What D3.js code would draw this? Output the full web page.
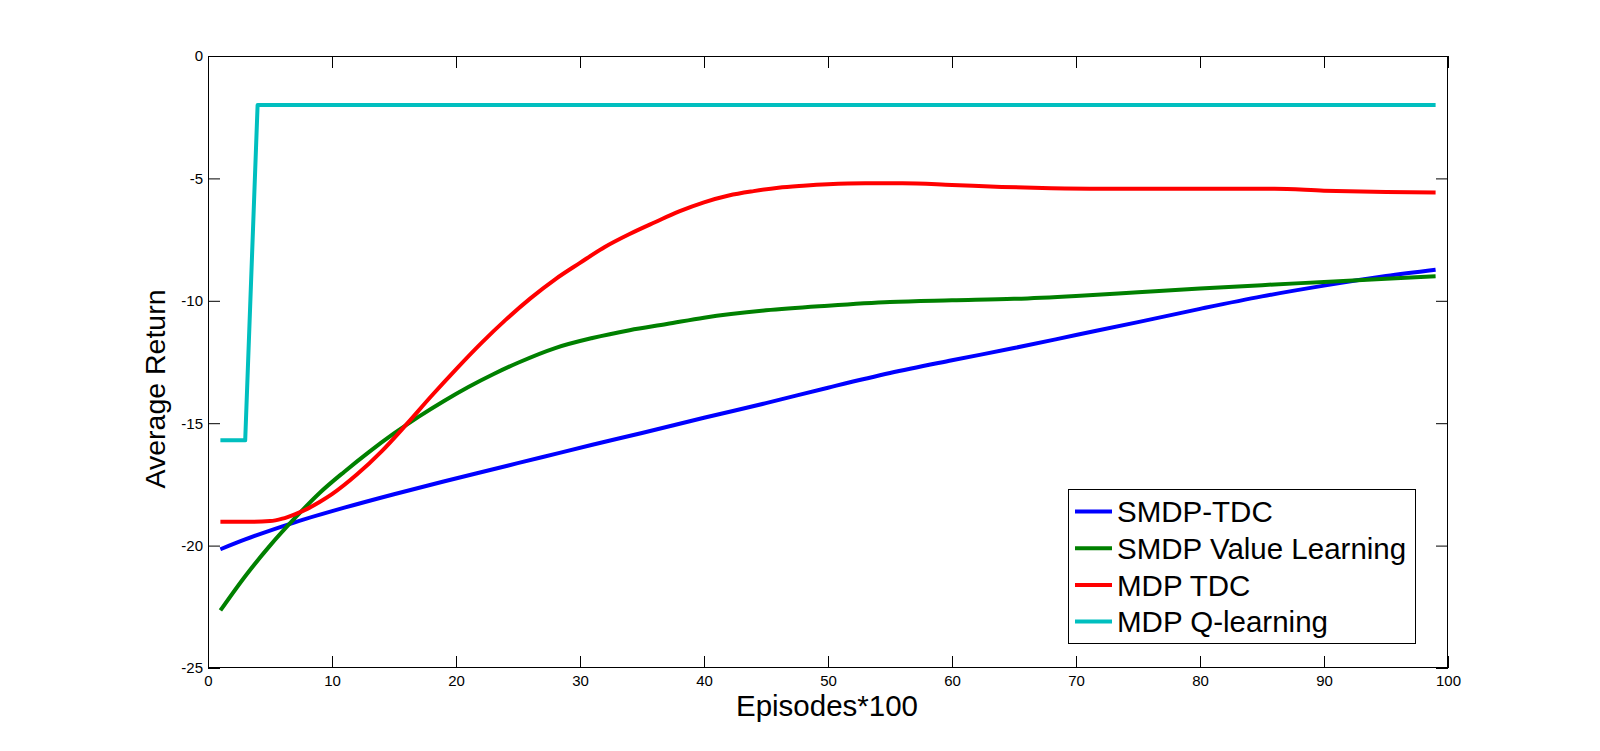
<!DOCTYPE html>
<html>
<head>
<meta charset="utf-8">
<script src="https://cdn.jsdelivr.net/npm/d3@7"></script>
<style>
  html, body { margin: 0; padding: 0; background: #fff; }
  svg { display: block; }
  text { font-family: "Liberation Sans", Arial, Helvetica, sans-serif; }
</style>
</head>
<body>
<svg id="chart" width="1600" height="751"></svg>
<script>
// ---------- data ----------
const xTicks = [0, 10, 20, 30, 40, 50, 60, 70, 80, 90, 100];
const xTickLabels = ["0", "10", "20", "30", "40", "50", "60", "70", "80", "90", "100"];
const yTicks = [-25, -20, -15, -10, -5, 0];
const yTickLabels = ["-25", "-20", "-15", "-10", "-5", "0"];

const seriesNames = ["SMDP-TDC", "SMDP Value Learning", "MDP TDC", "MDP Q-learning"];
const seriesColors = ["#0000ff", "#008000", "#ff0000", "#00bfbf"];

const smdpTdcX = [1, 3, 7, 11, 15, 19, 23, 27, 31, 35, 40, 45, 50, 55, 60, 65, 70, 75, 80, 85, 90, 95, 99];
const smdpTdcY = [-20.15, -19.75, -19.05, -18.45, -17.9, -17.38, -16.88, -16.38, -15.88, -15.4, -14.78, -14.18, -13.55, -12.95, -12.43, -11.93, -11.4, -10.87, -10.33, -9.82, -9.38, -8.99, -8.73];

const smdpValueX = [1, 3, 5, 7, 9, 11, 13, 15, 17, 19, 21, 23, 25, 28, 31, 34, 37, 40, 45, 50, 55, 60, 65, 70, 75, 80, 85, 90, 95, 99];
const smdpValueY = [-22.65, -21.25, -20.0, -18.88, -17.85, -16.98, -16.17, -15.42, -14.73, -14.1, -13.52, -13.0, -12.53, -11.93, -11.52, -11.2, -10.95, -10.69, -10.39, -10.2, -10.05, -9.98, -9.92, -9.8, -9.65, -9.5, -9.36, -9.23, -9.1, -9.0];

const mdpTdcX = [1, 3, 5, 6, 7, 8, 9, 10, 12, 14, 16, 18, 20, 22, 24, 26, 28, 30, 32, 34, 36, 38, 40, 42, 44, 46, 48, 50, 53, 56, 60, 64, 68, 72, 76, 80, 86, 90, 95, 99];
const mdpTdcY = [-19.03, -19.03, -19.0, -18.9, -18.72, -18.5, -18.22, -17.9, -17.1, -16.15, -15.05, -13.9, -12.8, -11.75, -10.78, -9.9, -9.12, -8.45, -7.8, -7.27, -6.8, -6.35, -5.98, -5.7, -5.52, -5.38, -5.3, -5.24, -5.2, -5.2, -5.27, -5.35, -5.4, -5.42, -5.42, -5.42, -5.42, -5.5, -5.56, -5.58];

const mdpQX = [1, 2, 3, 4, 10, 20, 30, 40, 50, 60, 70, 80, 90, 99];
const mdpQY = [-15.7, -15.7, -15.7, -2.0, -2.0, -2.0, -2.0, -2.0, -2.0, -2.0, -2.0, -2.0, -2.0, -2.0];

const xLabel = "Episodes*100";
const yLabel = "Average Return";

// ---------- build ----------
const seriesX = [smdpTdcX, smdpValueX, mdpTdcX, mdpQX];
const seriesY = [smdpTdcY, smdpValueY, mdpTdcY, mdpQY];
const series = seriesNames.map((name, i) => ({
  name, color: seriesColors[i],
  points: seriesX[i].map((xv, j) => ({ x: xv, y: seriesY[i][j] })),
  smooth: i !== 3
}));

const svg = d3.select("#chart");
const L = 208, R = 1448, T = 56, B = 668;

const x = d3.scaleLinear().domain([0, 100]).range([L, R]);
const y = d3.scaleLinear().domain([-25, 0]).range([B, T]);

svg.append("rect").attr("x", L).attr("y", T).attr("width", R - L).attr("height", B - T).attr("fill", "#fff");

// axes
const gx = svg.append("g").attr("transform", `translate(0,${B})`)
  .call(d3.axisBottom(x).tickValues(xTicks).tickFormat((d, i) => xTickLabels[i]).tickSizeInner(-12).tickSizeOuter(0).tickPadding(7));
const gxt = svg.append("g").attr("transform", `translate(0,${T})`)
  .call(d3.axisTop(x).tickValues(xTicks).tickFormat("").tickSizeInner(-12).tickSizeOuter(0));
const gy = svg.append("g").attr("transform", `translate(${L},0)`)
  .call(d3.axisLeft(y).tickValues(yTicks).tickFormat((d, i) => yTickLabels[i]).tickSizeInner(-12).tickSizeOuter(0).tickPadding(5));
const gyr = svg.append("g").attr("transform", `translate(${R},0)`)
  .call(d3.axisRight(y).tickValues(yTicks).tickFormat("").tickSizeInner(-12).tickSizeOuter(0));

[gx, gxt, gy, gyr].forEach(g => {
  g.select(".domain").remove();
  g.selectAll(".tick line").attr("stroke", "#000").attr("stroke-width", 1);
  g.selectAll(".tick text").attr("fill", "#000").style("font-size", "15px")
    .style("font-family", '"Liberation Sans", Arial, Helvetica, sans-serif');
});

// lines
const lineSmooth = d3.line().x(d => x(d.x)).y(d => y(d.y)).curve(d3.curveMonotoneX);
const lineStraight = d3.line().x(d => x(d.x)).y(d => y(d.y));

svg.append("g").selectAll("path").data(series).join("path")
  .attr("d", d => d.smooth ? lineSmooth(d.points) : lineStraight(d.points))
  .attr("fill", "none")
  .attr("stroke", d => d.color)
  .attr("stroke-width", 4)
  .attr("stroke-linejoin", "round");

// frame
svg.append("rect").attr("x", L + 0.5).attr("y", T + 0.5).attr("width", R - L - 1).attr("height", B - T - 1)
  .attr("fill", "none").attr("stroke", "#000").attr("stroke-width", 1);

// axis labels
svg.append("text").attr("x", 827).attr("y", 716).attr("text-anchor", "middle")
  .style("font-size", "29.5px").attr("fill", "#000").text(xLabel);
svg.append("text").attr("transform", `translate(165,389) rotate(-90)`).attr("text-anchor", "middle")
  .style("font-size", "28.5px").attr("fill", "#000").text(yLabel);

// legend
const lg = svg.append("g");
lg.append("rect").attr("x", 1068.5).attr("y", 489.5).attr("width", 347).attr("height", 154)
  .attr("fill", "#fff").attr("stroke", "#000").attr("stroke-width", 1);
const rowY = d3.scaleLinear().domain([0, 3]).range([511.5, 621.6]);
series.forEach((s, i) => {
  lg.append("line").attr("x1", 1075).attr("x2", 1112).attr("y1", rowY(i)).attr("y2", rowY(i))
    .attr("stroke", s.color).attr("stroke-width", 4);
  lg.append("text").attr("x", 1117).attr("y", rowY(i)).attr("dy", "0.36em")
    .style("font-size", "29.5px").attr("fill", "#000").text(s.name);
});
</script>
</body>
</html>
